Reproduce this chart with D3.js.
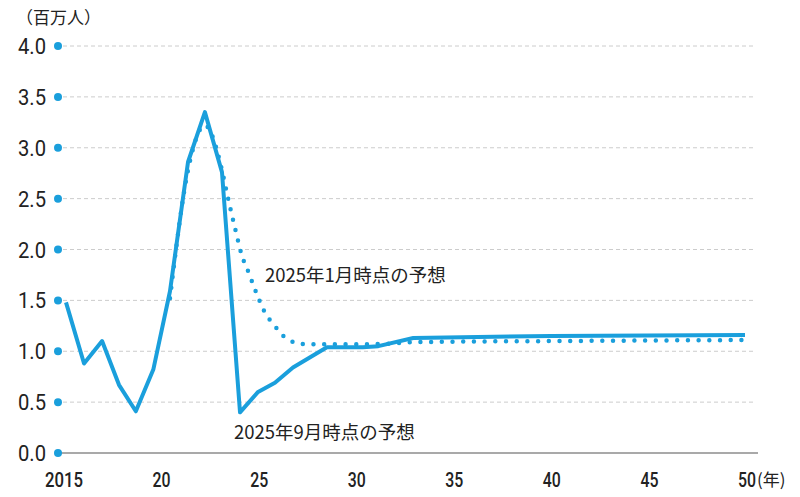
<!DOCTYPE html>
<html><head><meta charset="utf-8">
<script src="https://cdn.jsdelivr.net/npm/d3@7"></script>
<style>body{margin:0;background:#fff}</style></head>
<body><svg id="c" width="800" height="497"></svg>
<script>
const yTicks=[0,0.5,1,1.5,2,2.5,3,3.5,4];
const yTickLabels=["0.0","0.5","1.0","1.5","2.0","2.5","3.0","3.5","4.0"];
const xTicks=[2015,2020,2025,2030,2035,2040,2045,2050];
const xTickLabels=["2015","20","25","30","35","40","45","50"];
const sepYears=[2015,2015.93,2016.86,2017.73,2018.6,2019.5,2020.36,2021.29,2022.16,2023.04,2023.97,2024.9,2025.77,2026.7,2028.45,2030.3,2031.1,2032.9,2040,2045,2050];
const sepValues=[1.48,0.88,1.10,0.67,0.41,0.82,1.59,2.86,3.35,2.76,0.40,0.60,0.69,0.84,1.04,1.04,1.05,1.13,1.15,1.155,1.16];
const janYears=[2020.36,2021.29,2022.16,2023.04,2023.3,2023.55,2023.8,2024.05,2024.4,2024.8,2025.2,2025.8,2026.4,2027.3,2029,2031,2033,2040,2050];
const janValues=[1.52,2.78,3.22,2.78,2.55,2.34,2.14,1.95,1.78,1.58,1.40,1.24,1.12,1.07,1.07,1.07,1.09,1.10,1.11];
const color="#1a9fdc";
const svg=d3.select("#c");
const font="'Roboto',sans-serif";
const jp="'Noto Sans CJK JP',sans-serif";
const y=d3.scaleLinear().domain([0,4]).range([453,46]);
const x=d3.scaleLinear().domain([2015,2050]).range([66,745]);
const xl=d3.scaleLinear().domain([2015,2050]).range([64,747]);
svg.append("g").selectAll("line").data(yTicks.filter(d=>d>0)).join("line")
 .attr("x1",63).attr("x2",756).attr("y1",d=>y(d)).attr("y2",d=>y(d))
 .attr("stroke","#ccc").attr("stroke-dasharray","4,3").attr("stroke-width",1);
svg.append("line").attr("x1",58).attr("x2",758).attr("y1",y(0)).attr("y2",y(0)).attr("stroke","#555").attr("stroke-width",1.2);
svg.append("g").selectAll("circle").data(yTicks).join("circle")
 .attr("cx",58).attr("cy",d=>y(d)).attr("r",4).attr("fill",color);
svg.append("g").selectAll("text").data(yTicks).join("text")
 .attr("x",18).attr("y",d=>y(d)+8)
 .attr("font-family",font).attr("font-size",22).attr("fill","#222")
 .attr("textLength",28).attr("lengthAdjust","spacingAndGlyphs")
 .text((d,i)=>yTickLabels[i]);
svg.append("g").selectAll("text").data(xTicks).join("text")
 .attr("x",(d,i)=>xl(d)-(i===0?19:9)).attr("y",487)
 .attr("font-family",font).attr("font-size",20).attr("font-weight",500).attr("fill","#222")
 .attr("textLength",(d,i)=>i===0?38:18).attr("lengthAdjust","spacingAndGlyphs")
 .text((d,i)=>xTickLabels[i]);
svg.append("text").attr("x",757).attr("y",486).attr("font-family",jp).attr("font-size",17).attr("fill","#222").text("(年)");
svg.append("text").attr("x",16).attr("y",24).attr("font-family",jp).attr("font-size",17).attr("fill","#222").text("（百万人）");
const jan=janYears.map((d,i)=>[d,janValues[i]]);
const sep=sepYears.map((d,i)=>[d,sepValues[i]]);
svg.append("path").attr("d",d3.line().x(d=>x(d[0])).y(d=>y(d[1])).curve(d3.curveMonotoneX)(jan))
 .attr("fill","none").attr("stroke",color).attr("stroke-width",4.5).attr("stroke-linecap","round").attr("stroke-dasharray","0,10.7");
svg.append("path").attr("d",d3.line().x(d=>x(d[0])).y(d=>y(d[1]))(sep))
 .attr("fill","none").attr("stroke",color).attr("stroke-width",4).attr("stroke-linejoin","round");
svg.append("text").attr("x",265).attr("y",282).attr("font-family",jp).attr("font-size",18.5).attr("fill","#222").text("2025年1月時点の予想");
svg.append("text").attr("x",234).attr("y",439).attr("font-family",jp).attr("font-size",18.5).attr("fill","#222").text("2025年9月時点の予想");
</script></body></html>
